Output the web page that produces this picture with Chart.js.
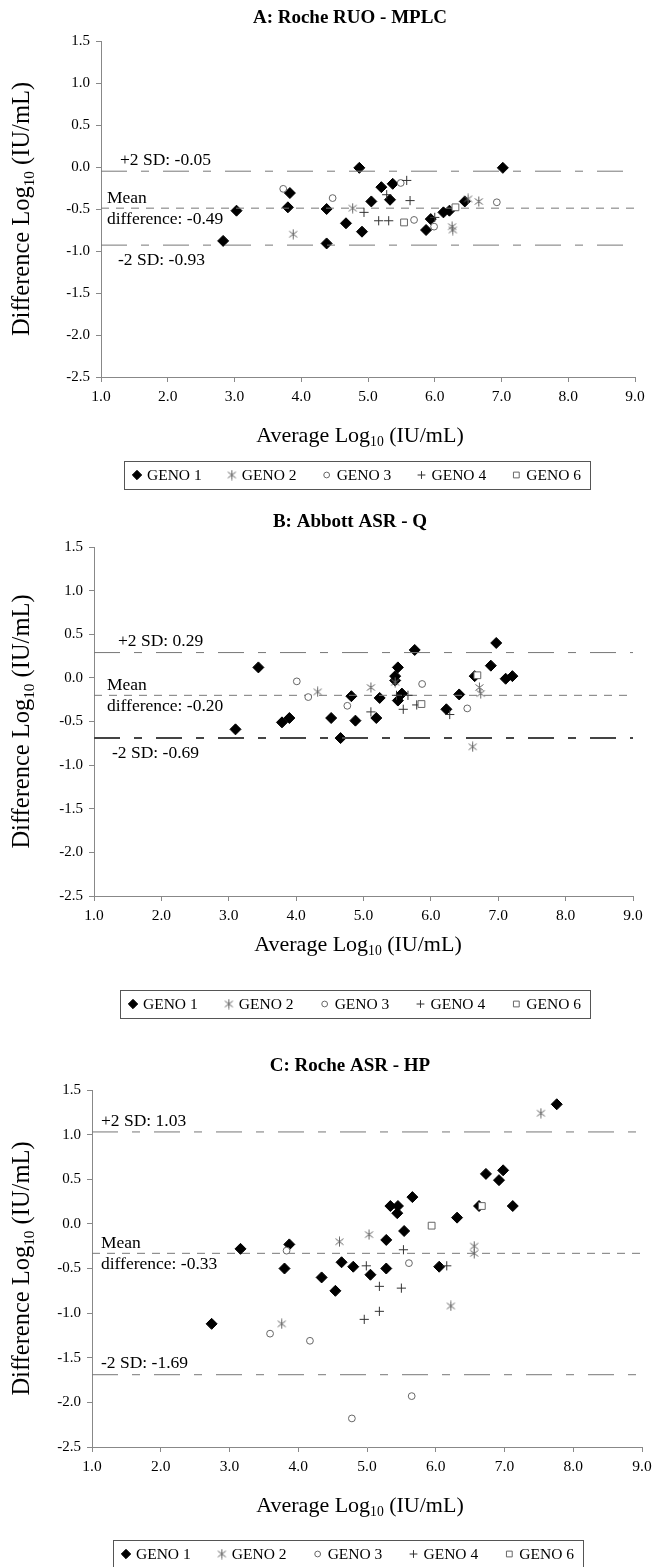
<!DOCTYPE html>
<html>
<head>
<meta charset="utf-8">
<script src="https://cdn.jsdelivr.net/npm/chart.js@4.4.1/dist/chart.umd.min.js"></script>
<style>
  body { margin: 0; background: #fff; width: 658px; height: 1567px; position: relative; overflow: hidden; }
  canvas { position: absolute; left: 0; }
</style>
</head>
<body>
<canvas id="chartA"></canvas>
<canvas id="chartB"></canvas>
<canvas id="chartC"></canvas>
<script>
// Skala sumbu (sama untuk ketiga panel)
const xMin = 1, xMax = 9, xStep = 1;
const yMin = -2.5, yMax = 1.5, yStep = 0.5;
const genoNames = ['GENO 1', 'GENO 2', 'GENO 3', 'GENO 4', 'GENO 6'];

// Panel A: Roche RUO - MPLC  [average, difference]
const aTitle = 'A: Roche RUO - MPLC';
const aLimits = [-0.05, -0.49, -0.93];  // +2SD, mean, -2SD
const aGeno1 = [[2.83,-0.88],[3.03,-0.52],[3.80,-0.48],[3.83,-0.31],[4.38,-0.50],[4.38,-0.91],[4.67,-0.67],[4.87,-0.01],[4.91,-0.77],[5.05,-0.41],[5.20,-0.24],[5.37,-0.20],[5.33,-0.39],[5.87,-0.75],[5.94,-0.62],[6.13,-0.54],[6.22,-0.52],[6.45,-0.41],[7.02,-0.01]];
const aGeno2 = [[3.88,-0.80],[4.77,-0.49],[6.26,-0.71],[6.27,-0.75],[6.50,-0.38],[6.66,-0.41]];
const aGeno3 = [[3.73,-0.26],[4.47,-0.37],[5.49,-0.19],[5.69,-0.63],[5.99,-0.71],[6.93,-0.42]];
const aGeno4 = [[4.94,-0.54],[5.16,-0.64],[5.31,-0.64],[5.28,-0.33],[5.58,-0.16],[5.63,-0.40],[6.00,-0.60]];
const aGeno6 = [[5.54,-0.66],[6.31,-0.48]];

// Panel B: Abbott ASR - Q
const bTitle = 'B: Abbott ASR - Q';
const bLimits = [0.29, -0.20, -0.69];
const bGeno1 = [[3.10,-0.59],[3.44,0.12],[3.79,-0.51],[3.90,-0.46],[4.52,-0.46],[4.66,-0.69],[4.82,-0.21],[4.88,-0.49],[5.19,-0.46],[5.24,-0.23],[5.47,0.02],[5.47,-0.03],[5.51,0.12],[5.51,-0.26],[5.57,-0.18],[5.76,0.32],[6.23,-0.36],[6.42,-0.19],[6.65,0.02],[6.89,0.14],[6.97,0.40],[7.11,-0.01],[7.21,0.02]];
const bGeno2 = [[4.32,-0.16],[5.11,-0.11],[5.47,-0.05],[6.62,-0.79],[6.72,-0.11],[6.74,-0.18]];
const bGeno3 = [[4.01,-0.04],[4.18,-0.22],[4.76,-0.32],[5.87,-0.07],[6.54,-0.35]];
const bGeno4 = [[5.11,-0.39],[5.49,-0.20],[5.59,-0.36],[5.66,-0.20],[5.79,-0.31],[6.28,-0.42]];
const bGeno6 = [[5.86,-0.30],[6.69,0.03]];

// Panel C: Roche ASR - HP
const cTitle = 'C: Roche ASR - HP';
const cLimits = [1.03, -0.33, -1.69];
const cGeno1 = [[2.74,-1.12],[3.16,-0.28],[3.87,-0.23],[3.80,-0.50],[4.34,-0.60],[4.54,-0.75],[4.63,-0.43],[4.80,-0.48],[5.05,-0.57],[5.28,-0.50],[5.28,-0.18],[5.34,0.20],[5.45,0.20],[5.44,0.12],[5.54,-0.08],[5.66,0.30],[6.05,-0.48],[6.31,0.07],[6.63,0.20],[6.73,0.56],[6.92,0.49],[6.98,0.60],[7.12,0.20],[7.76,1.34]];
const cGeno2 = [[3.76,-1.12],[4.60,-0.20],[5.03,-0.12],[6.22,-0.92],[6.56,-0.25],[6.56,-0.33],[7.53,1.24]];
const cGeno3 = [[3.59,-1.23],[3.83,-0.30],[4.17,-1.31],[4.78,-2.18],[5.61,-0.44],[5.65,-1.93]];
const cGeno4 = [[4.96,-1.07],[4.99,-0.47],[5.18,-0.70],[5.18,-0.98],[5.50,-0.72],[5.53,-0.29],[6.16,-0.47]];
const cGeno6 = [[5.94,-0.02],[6.67,0.20]];

const FONT = "'Liberation Serif', 'DejaVu Serif', serif";

// Bintang 6 kaki buat GENO 2
function makeAsterisk() {
    const c = document.createElement('canvas');
    c.width = 11; c.height = 11;
    const g = c.getContext('2d');
    g.strokeStyle = '#666'; g.lineWidth = 1;
    g.beginPath();
    g.moveTo(5.5, 0.5); g.lineTo(5.5, 10.5);
    g.moveTo(1.5, 2.5); g.lineTo(9.5, 8.5);
    g.moveTo(9.5, 2.5); g.lineTo(1.5, 8.5);
    g.stroke();
    return c;
}
const asterisk = makeAsterisk();

const genoStyles = [
    { pointStyle: 'rectRot', radius: 5.5, bg: '#000', border: '#000', width: 1 },
    { pointStyle: asterisk, radius: 5, bg: 'transparent', border: '#666', width: 1 },
    { pointStyle: 'circle', radius: 3.4, bg: '#fff', border: '#666', width: 1 },
    { pointStyle: 'cross', radius: 4.6, bg: 'transparent', border: '#333', width: 1 },
    { pointStyle: 'rect', radius: 4.8, bg: '#fff', border: '#666', width: 1 }
];

// Posisi layout tiap panel (px di canvas masing-masing)
const panels = [
    { id: 'chartA', top: 0, h: 500, L: 101, R: 635, T: 41, B: 377, titleX: 350, titleY: 18, xTitleX: 360, xTitleY: 436, legendY: 475, legendX: 124, legendW: 466,
      title: aTitle, limits: aLimits, groups: [aGeno1, aGeno2, aGeno3, aGeno4, aGeno6],
      notes: { low: 'below', upX: 120, meanX: 107, lowX: 118 }, thickLow: false },
    { id: 'chartB', top: 500, h: 540, L: 94, R: 633, T: 47, B: 396, titleX: 350, titleY: 22, xTitleY: 445, xTitleX: 358, legendY: 504, legendX: 120, legendW: 470,
      title: bTitle, limits: bLimits, groups: [bGeno1, bGeno2, bGeno3, bGeno4, bGeno6],
      notes: { low: 'below', upX: 118, meanX: 107, lowX: 112 }, thickLow: true },
    { id: 'chartC', top: 1040, h: 527, L: 92, R: 642, T: 50, B: 407, titleX: 350, titleY: 26, xTitleY: 466, xTitleX: 360, legendY: 514, legendX: 113, legendW: 470,
      title: cTitle, limits: cLimits, groups: [cGeno1, cGeno2, cGeno3, cGeno4, cGeno6],
      notes: { low: 'above', upX: 101, meanX: 101, lowX: 101 }, thickLow: false }
];

// Teks "Log" + subscript 10
function drawLogText(ctx, before, after, x, y, size) {
    ctx.font = `${size}px ${FONT}`;
    const w1 = ctx.measureText(before).width;
    ctx.font = `${size * 0.62}px ${FONT}`;
    const w2 = ctx.measureText('10').width;
    ctx.font = `${size}px ${FONT}`;
    const w3 = ctx.measureText(after).width;
    let cx = x - (w1 + w2 + w3) / 2;
    ctx.textAlign = 'left';
    ctx.textBaseline = 'middle';
    ctx.fillText(before, cx, y);
    cx += w1;
    ctx.font = `${size * 0.62}px ${FONT}`;
    ctx.fillText('10', cx, y + size * 0.3);
    cx += w2;
    ctx.font = `${size}px ${FONT}`;
    ctx.fillText(after, cx, y);
}

function drawMarker(ctx, st, x, y) {
    ctx.save();
    ctx.fillStyle = st.bg;
    ctx.strokeStyle = st.border;
    ctx.lineWidth = st.width;
    Chart.helpers.drawPoint(ctx, { pointStyle: st.pointStyle, radius: st.radius * 0.85, rotation: 0, borderWidth: st.width }, x, y);
    ctx.restore();
}

const extrasPlugin = {
    id: 'extras',
    afterDraw(chart, args, opts) {
        const p = opts.panel;
        const ctx = chart.ctx;
        const area = chart.chartArea;
        const ys = chart.scales.y;
        ctx.save();
        ctx.fillStyle = '#000';

        // Judul panel
        ctx.font = `bold 19px ${FONT}`;
        ctx.textAlign = 'center';
        ctx.textBaseline = 'middle';
        ctx.fillText(p.title, p.titleX, p.titleY);

        // Judul sumbu X
        drawLogText(ctx, 'Average Log', ' (IU/mL)', p.xTitleX, p.xTitleY, 22);

        // Judul sumbu Y (diputar)
        ctx.save();
        ctx.translate(23, (area.top + area.bottom) / 2);
        ctx.rotate(-Math.PI / 2);
        drawLogText(ctx, 'Difference Log', ' (IU/mL)', 0, 0, 24.5);
        ctx.restore();

        // Label garis SD & mean
        ctx.font = `17.5px ${FONT}`;
        ctx.textAlign = 'left';
        ctx.textBaseline = 'middle';
        const yUp = ys.getPixelForValue(p.limits[0]);
        const yMean = ys.getPixelForValue(p.limits[1]);
        const yLow = ys.getPixelForValue(p.limits[2]);
        const fmt = v => (v < 0 ? '-' : '') + Math.abs(v).toFixed(2);
        ctx.fillText('+2 SD: ' + fmt(p.limits[0]), p.notes.upX, yUp - 11);
        ctx.fillText('Mean', p.notes.meanX, yMean - 10);
        ctx.fillText('difference: ' + fmt(p.limits[1]), p.notes.meanX, yMean + 11);
        ctx.fillText('-2 SD: ' + fmt(p.limits[2]), p.notes.lowX, p.notes.low === 'below' ? yLow + 15 : yLow - 11);

        // Legend dalam kotak
        const boxH = 28;
        ctx.strokeStyle = '#555';
        ctx.lineWidth = 1;
        ctx.strokeRect(p.legendX + 0.5, Math.round(p.legendY - boxH / 2) + 0.5, p.legendW, boxH);
        ctx.font = `15.5px ${FONT}`;
        const widths = genoNames.map(n => ctx.measureText(n).width);
        const items = widths.map(w => 16 + w);
        const gap = (p.legendW - 16 - items.reduce((s, v) => s + v, 0)) / (genoNames.length - 1);
        let x0 = p.legendX + 8;
        genoNames.forEach((name, i) => {
            drawMarker(ctx, genoStyles[i], x0 + 5, p.legendY);
            ctx.fillStyle = '#000';
            ctx.textAlign = 'left';
            ctx.fillText(name, x0 + 15, p.legendY + 1);
            x0 += items[i] + gap;
        });
        ctx.restore();
    }
};

function buildChart(p) {
    const canvas = document.getElementById(p.id);
    canvas.width = 658; canvas.height = p.h;
    canvas.style.top = p.top + 'px';
    canvas.style.width = '658px'; canvas.style.height = p.h + 'px';

    const lineDashes = [[26, 14, 8, 14], [8, 7], [26, 14, 8, 14]];
    const limitSets = p.limits.map((v, i) => ({
        type: 'line',
        data: [{ x: xMin, y: v }, { x: xMax, y: v }],
        borderColor: (i === 2 && p.thickLow) ? '#444' : '#777',
        borderWidth: (i === 2 && p.thickLow) ? 2 : 1,
        borderDash: lineDashes[i],
        pointRadius: 0,
        order: 5
    }));
    const pointSets = p.groups.map((g, i) => ({
        type: 'scatter',
        label: genoNames[i],
        data: g.map(d => ({ x: d[0], y: d[1] })),
        pointStyle: genoStyles[i].pointStyle,
        pointRadius: genoStyles[i].radius,
        pointBackgroundColor: genoStyles[i].bg,
        pointBorderColor: genoStyles[i].border,
        pointBorderWidth: genoStyles[i].width,
        order: 5 - i
    }));
    pointSets.reverse();

    const X_AXIS_H = 32;
    return new Chart(canvas.getContext('2d'), {
        type: 'scatter',
        data: { datasets: [...limitSets, ...pointSets] },
        options: {
            responsive: false,
            animation: false,
            events: [],
            layout: { padding: { left: 0, top: p.T, right: 658 - p.R, bottom: p.h - p.B - X_AXIS_H } },
            plugins: { legend: { display: false }, tooltip: { enabled: false }, extras: { panel: p } },
            scales: {
                x: {
                    type: 'linear', min: xMin, max: xMax,
                    ticks: { stepSize: xStep, callback: v => v.toFixed(1), color: '#000', font: { family: FONT, size: 15.5 }, padding: 6, maxRotation: 0, autoSkip: false },
                    grid: { display: true, drawOnChartArea: false, drawTicks: true, tickLength: 5, color: '#888' },
                    border: { color: '#888' },
                    afterFit: s => { s.height = X_AXIS_H; }
                },
                y: {
                    type: 'linear', min: yMin, max: yMax,
                    ticks: { stepSize: yStep, callback: v => v.toFixed(1), color: '#000', font: { family: FONT, size: 15 }, padding: 6, autoSkip: false },
                    grid: { display: true, drawOnChartArea: false, drawTicks: true, tickLength: 5, color: '#888' },
                    border: { color: '#888' },
                    afterFit: s => { s.width = p.L; }
                }
            }
        },
        plugins: [extrasPlugin]
    });
}

panels.forEach(buildChart);
</script>
</body>
</html>
